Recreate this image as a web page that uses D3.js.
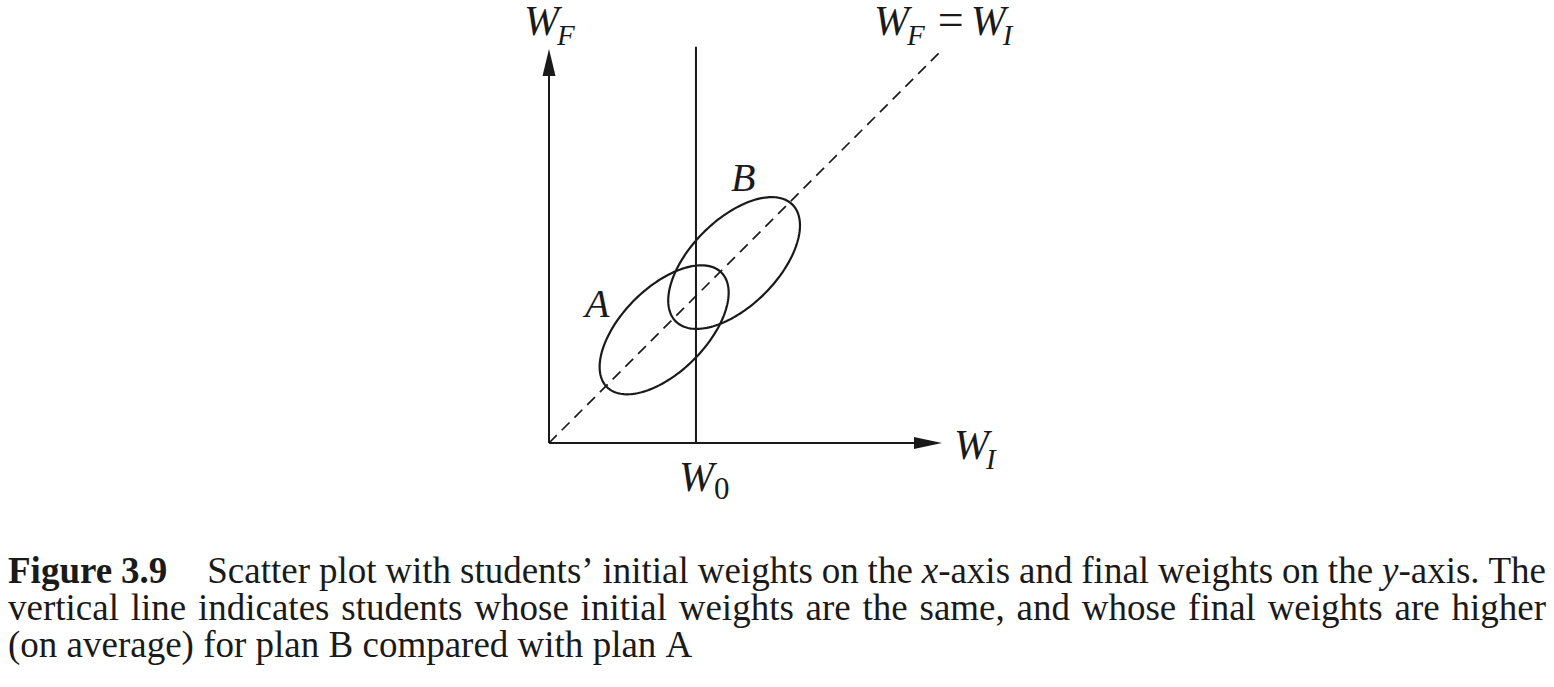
<!DOCTYPE html>
<html>
<head>
<meta charset="utf-8">
<script src="https://cdn.jsdelivr.net/npm/d3@7"></script>
<style>
  html, body { margin: 0; padding: 0; background: #fff; }
  svg { display: block; }
  text { font-family: "Liberation Serif", "Times New Roman", serif; fill: #1a1a1a; }
</style>
</head>
<body>
<svg id="chart" width="1554" height="687"></svg>
<script>
// ---------- data ----------
const axisMax = 10;               // axes run 0..10 in both W_I and W_F
const w0Value = 3.74;             // position of the vertical line W0 on the W_I axis
const verticalTop = 10.08;        // top of the vertical line
const identityEnd = 9.95;         // end of the dashed W_F = W_I line
const groupNames = ["A", "B"];
const groupCentreX = [2.93, 4.71];
const groupCentreY = [2.88, 4.58];
const groupSemiMajor = [2.06, 2.1];
const groupSemiMinor = [1.07, 1.1];
const groupAngleDeg = [45, 45];
const captionLines = [
  [[["Figure", "b"]], [["3.9", "b"]], [["Scatter", "r"]], [["plot", "r"]], [["with", "r"]], [["students’", "r"]], [["initial", "r"]], [["weights", "r"]], [["on", "r"]], [["the", "r"]], [["x", "i"], ["-axis", "r"]], [["and", "r"]], [["final", "r"]], [["weights", "r"]], [["on", "r"]], [["the", "r"]], [["y", "i"], ["-axis.", "r"]], [["The", "r"]]],
  "vertical line indicates students whose initial weights are the same, and whose final weights are higher".split(" ").map(w => [[w, "r"]]),
  "(on average) for plan B compared with plan A".split(" ").map(w => [[w, "r"]])
];

// ---------- layout ----------
const svg = d3.select("#chart");
const x = d3.scaleLinear().domain([0, axisMax]).range([549, 942]);
const y = d3.scaleLinear().domain([0, axisMax]).range([443, 50]);
const ink = "#1a1a1a";

// axes
svg.append("line").attr("x1", x(0)).attr("y1", y(0)).attr("x2", x(axisMax) - 20).attr("y2", y(0))
  .attr("stroke", ink).attr("stroke-width", 2);
svg.append("line").attr("x1", x(0)).attr("y1", y(0)).attr("x2", x(0)).attr("y2", y(axisMax) + 20)
  .attr("stroke", ink).attr("stroke-width", 2);
// arrowheads
svg.append("path")
  .attr("d", `M${x(axisMax)},${y(0)} L${x(axisMax) - 28},${y(0) - 6} L${x(axisMax) - 28},${y(0) + 6} Z`)
  .attr("fill", ink);
svg.append("path")
  .attr("d", `M${x(0)},${y(axisMax) - 1} L${x(0) - 6.5},${y(axisMax) + 26} L${x(0) + 6.5},${y(axisMax) + 26} Z`)
  .attr("fill", ink);

// vertical line at W0
svg.append("line").attr("x1", x(w0Value)).attr("y1", y(0)).attr("x2", x(w0Value)).attr("y2", y(verticalTop))
  .attr("stroke", ink).attr("stroke-width", 2);

// dashed identity line
svg.append("line").attr("x1", x(0)).attr("y1", y(0)).attr("x2", x(identityEnd)).attr("y2", y(identityEnd))
  .attr("stroke", ink).attr("stroke-width", 1.7).attr("stroke-dasharray", "11,7");

// ellipses
const line = d3.line().x(d => x(d[0])).y(d => y(d[1])).curve(d3.curveLinearClosed);
groupNames.forEach((name, i) => {
  const phi = groupAngleDeg[i] * Math.PI / 180;
  const a = groupSemiMajor[i], b = groupSemiMinor[i];
  const pts = d3.range(0, 360, 2).map(t => {
    const th = t * Math.PI / 180;
    return [
      groupCentreX[i] + a * Math.cos(th) * Math.cos(phi) - b * Math.sin(th) * Math.sin(phi),
      groupCentreY[i] + a * Math.cos(th) * Math.sin(phi) + b * Math.sin(th) * Math.cos(phi)
    ];
  });
  svg.append("path").attr("d", line(pts)).attr("fill", "none").attr("stroke", ink).attr("stroke-width", 2.2);
});

// group labels
svg.append("text").attr("x", 585).attr("y", 317).attr("font-size", 40).attr("font-style", "italic").text(groupNames[0]);
svg.append("text").attr("x", 731).attr("y", 191).attr("font-size", 40).attr("font-style", "italic").text(groupNames[1]);

// math labels
function mathLabel(xp, yp, parts) {
  const t = svg.append("text").attr("x", xp).attr("y", yp);
  parts.forEach(p => {
    const s = t.append("tspan").text(p.t).attr("font-size", p.size || 42);
    if (p.italic !== false) s.attr("font-style", "italic");
    if (p.dy) s.attr("dy", p.dy);
    if (p.dx) s.attr("dx", p.dx);
  });
  return t;
}
mathLabel(524, 35, [{t: "W"}, {t: "F", size: 29, dy: 10, dx: -2}]);
mathLabel(874, 35, [{t: "W"}, {t: "F", size: 29, dy: 10, dx: -2}, {t: "=", size: 46, italic: false, dy: -10, dx: 13}, {t: "W", dx: 7}, {t: "I", size: 29, dy: 10, dx: -3}]);
mathLabel(x(w0Value) - 17, 491, [{t: "W"}, {t: "0", size: 31, italic: false, dy: 8, dx: 0}]);
mathLabel(x(axisMax) + 12, 459, [{t: "W"}, {t: "I", size: 29, dy: 10, dx: -3}]);

// caption (justified)
const capSize = 37;
const capLeft = 8, capRight = 1546;
const baselines = [583, 620, 657];
const styleAttrs = {b: {"font-weight": "bold"}, i: {"font-style": "italic"}, r: {}};
captionLines.forEach((words, li) => {
  const g = svg.append("g");
  const nodes = words.map(segs => {
    const t = g.append("text").attr("y", baselines[li]).attr("font-size", capSize);
    segs.forEach(([txt, st]) => {
      const s = t.append("tspan").text(txt);
      Object.entries(styleAttrs[st]).forEach(([k, v]) => s.attr(k, v));
    });
    return t;
  });
  const widths = nodes.map(n => n.node().getComputedTextLength());
  const fixedGap = 40; // wide gap after the figure number
  const justify = li < 2;
  let space;
  if (li === 0) {
    space = (capRight - capLeft - d3.sum(widths) - fixedGap) / (words.length - 2);
  } else if (justify) {
    space = (capRight - capLeft - d3.sum(widths)) / (words.length - 1);
  } else {
    space = capSize * 0.25;
  }
  let cx = capLeft;
  nodes.forEach((n, k) => {
    n.attr("x", cx);
    cx += widths[k] + ((li === 0 && k === 1) ? fixedGap : space);
  });
});
</script>
</body>
</html>
